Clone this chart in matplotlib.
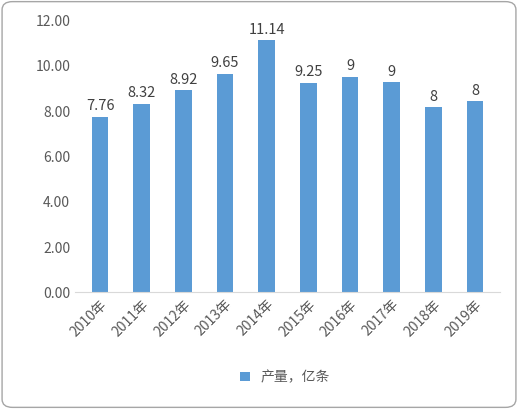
import matplotlib
matplotlib.use("Agg")
import matplotlib.pyplot as plt
from matplotlib.patches import FancyBboxPatch

plt.rcParams['font.family'] = ['Noto Sans CJK SC', 'DejaVu Sans']

years = ["2010年", "2011年", "2012年", "2013年", "2014年",
         "2015年", "2016年", "2017年", "2018年", "2019年"]
heights = [7.76, 8.32, 8.92, 9.65, 11.14, 9.25, 9.52, 9.28, 8.16, 8.44]
labels = ["7.76", "8.32", "8.92", "9.65", "11.14", "9.25", "9", "9", "8", "8"]

fig = plt.figure(figsize=(5.18, 4.09), dpi=100)
ax = fig.add_axes([0.145, 0.285, 0.82, 0.665])
fig.patches.append(FancyBboxPatch((0.004, 0.004), 0.992, 0.992,
                                  boxstyle="round,pad=0,rounding_size=0.02",
                                  transform=fig.transFigure, fill=False,
                                  edgecolor="#a6a6a6", linewidth=1))

x = range(len(years))
bars = ax.bar(x, heights, width=0.4, color="#5b9bd5", label="产量，亿条")
for b, t in zip(bars, labels):
    ax.text(b.get_x() + b.get_width() / 2, b.get_height() + 0.15, t,
            ha="center", va="bottom", fontsize=10.5, color="#404040")

ax.set_ylim(0, 12)
ax.set_yticks([0, 2, 4, 6, 8, 10, 12])
ax.set_yticklabels([f"{v:.2f}" for v in [0, 2, 4, 6, 8, 10, 12]])
ax.set_xlim(-0.6, 9.6)
ax.set_xticks(list(x))
ax.set_xticklabels(years, rotation=45, ha="right", rotation_mode="anchor")
ax.tick_params(axis="both", length=0, labelsize=10, colors="#595959")
for s in ["top", "right", "left"]:
    ax.spines[s].set_visible(False)
ax.spines["bottom"].set_color("#d9d9d9")

fig.legend(loc="lower center", bbox_to_anchor=(0.55, 0.03), frameon=False,
           fontsize=10, handlelength=0.7, handleheight=0.7, labelcolor="#595959")
fig.savefig("out.png", dpi=100)
